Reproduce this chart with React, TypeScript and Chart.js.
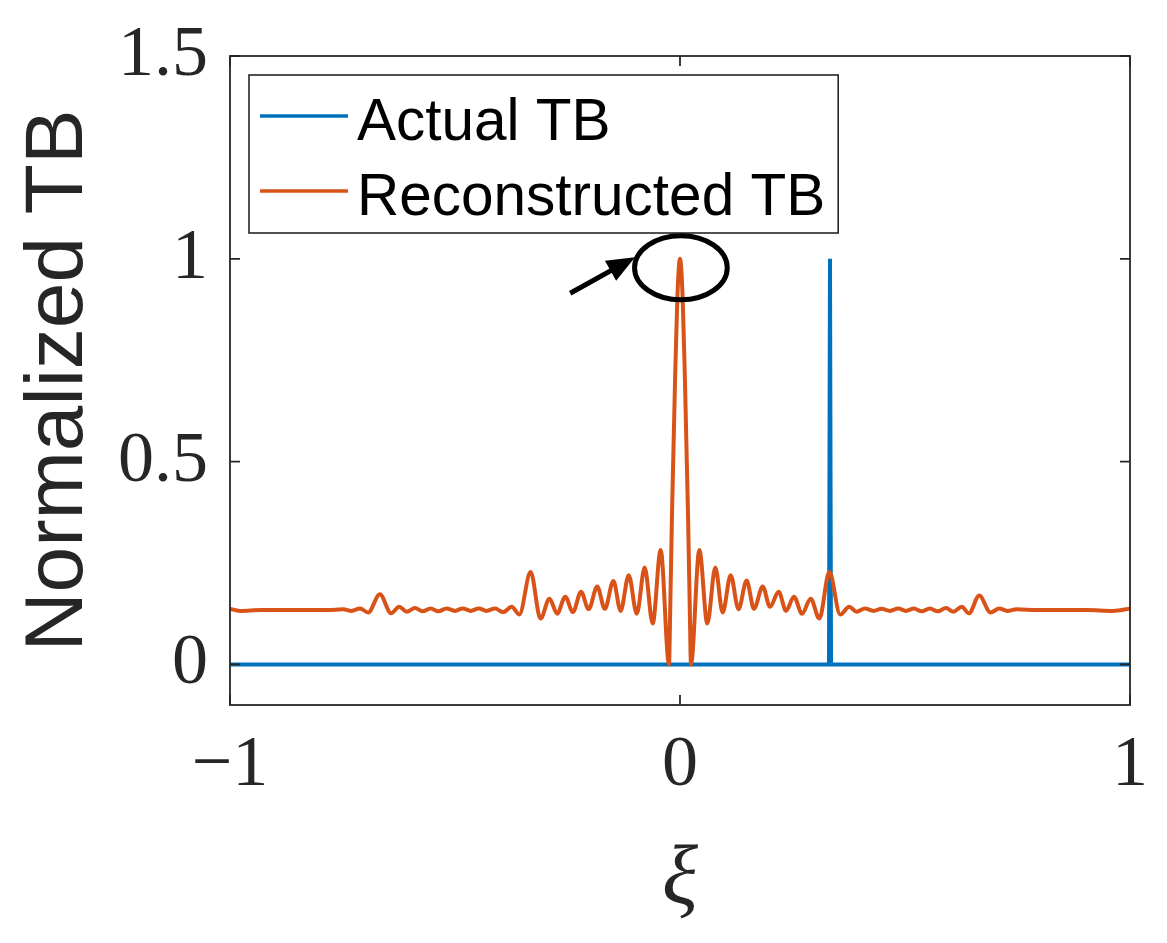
import { useEffect, useRef } from "react";
import { Chart, registerables } from "chart.js";

Chart.register(...registerables);

// ---- data ----
const xiValues = [
  -1.0, -0.978, -0.93, -0.86, -0.8, -0.765, -0.748, -0.73, -0.711, -0.693,
  -0.667, -0.642, -0.624, -0.607, -0.589, -0.572, -0.554, -0.537, -0.519, -0.5,
  -0.483, -0.465, -0.447, -0.43, -0.411, -0.393, -0.374, -0.357, -0.332, -0.31,
  -0.29, -0.273, -0.255, -0.238, -0.22, -0.203, -0.184, -0.167, -0.148, -0.132,
  -0.114, -0.096, -0.0785, -0.0607, -0.043, -0.0244, -0.022, -0.0178, -0.011, -0.006,
  0.0, 0.006, 0.011, 0.0178, 0.022, 0.0244, 0.043, 0.0607, 0.0785, 0.0948,
  0.1126, 0.13, 0.148, 0.1644, 0.1837, 0.2, 0.2193, 0.2356, 0.2533, 0.2711,
  0.2904, 0.3096, 0.3319, 0.356, 0.376, 0.3926, 0.411, 0.4296, 0.448, 0.4667,
  0.485, 0.502, 0.52, 0.537, 0.5556, 0.5726, 0.591, 0.6074, 0.626, 0.642,
  0.665, 0.69, 0.7096, 0.727, 0.748, 0.793, 0.86, 0.904, 0.962, 0.996, 1.0,
];
const reconstructedTB = [
  0.137, 0.132, 0.134, 0.134, 0.134, 0.135, 0.136, 0.132, 0.138, 0.128,
  0.173, 0.126, 0.142, 0.13, 0.139, 0.131, 0.138, 0.131, 0.138, 0.132,
  0.138, 0.132, 0.138, 0.132, 0.138, 0.129, 0.142, 0.123, 0.228, 0.113,
  0.162, 0.125, 0.167, 0.129, 0.179, 0.136, 0.192, 0.137, 0.206, 0.132,
  0.22, 0.125, 0.239, 0.101, 0.282, 0.0, 0.12, 0.37, 0.7, 0.9,
  1.0, 0.9, 0.7, 0.37, 0.12, 0.0, 0.282, 0.101, 0.239, 0.128,
  0.22, 0.136, 0.207, 0.137, 0.192, 0.142, 0.179, 0.132, 0.167, 0.125,
  0.162, 0.113, 0.228, 0.123, 0.142, 0.13, 0.138, 0.132, 0.137, 0.132,
  0.138, 0.132, 0.138, 0.131, 0.138, 0.131, 0.139, 0.13, 0.142, 0.126,
  0.17, 0.128, 0.138, 0.132, 0.136, 0.134, 0.134, 0.134, 0.132, 0.137, 0.138,
];
const actualXi = [-1, 0.3311, 0.3333, 0.3356, 1];
const actualTB = [0, 0, 1, 0, 0];

const xTicks = [-1, 0, 1];
const yTicks = [0, 0.5, 1, 1.5];
const seriesLabels = ["Actual TB", "Reconstructed TB"];
const seriesColors = ["#0072BD", "#D95319"];
const xTitle = "ξ";
const yTitle = "Normalized TB";

// annotation in data units
const highlightEllipse = { cx: 0.002, cy: 0.978, rx: 0.103, ry: 0.079 };
const highlightArrow = { fromX: -0.244, fromY: 0.915, toX: -0.1, toY: 1.004 };

const AXIS_COLOR = "#262626";

const fmtTick = (v: number) => (v < 0 ? "\u2212" + Math.abs(v) : String(v));

const framePlugin = {
  id: "matlabFrame",
  afterDatasetsDraw(chart: any) {
    const { ctx, chartArea: ca, scales } = chart;
    const xs = scales.x;
    const ys = scales.y;
    const tickLen = 10;
    ctx.save();
    ctx.strokeStyle = AXIS_COLOR;
    ctx.lineWidth = 1.8;
    ctx.beginPath();
    xTicks.forEach((t) => {
      const px = xs.getPixelForValue(t);
      ctx.moveTo(px, ca.bottom);
      ctx.lineTo(px, ca.bottom - tickLen);
      ctx.moveTo(px, ca.top);
      ctx.lineTo(px, ca.top + tickLen);
    });
    yTicks.forEach((t) => {
      const py = ys.getPixelForValue(t);
      ctx.moveTo(ca.left, py);
      ctx.lineTo(ca.left + tickLen, py);
      ctx.moveTo(ca.right, py);
      ctx.lineTo(ca.right - tickLen, py);
    });
    ctx.stroke();
    ctx.strokeRect(ca.left, ca.top, ca.right - ca.left, ca.bottom - ca.top);
    ctx.restore();
  },
  afterDraw(chart: any) {
    const { ctx, chartArea: ca, scales } = chart;
    const xs = scales.x;
    const ys = scales.y;
    ctx.save();

    // ---- legend ----
    const fontSize = 58.5;
    ctx.font = `${fontSize}px "Liberation Sans", Arial, sans-serif`;
    const left = ca.left + 19;
    const top = ca.top + 19;
    const lineStart = left + 11;
    const lineLen = 88;
    const textX = lineStart + 97;
    const widths = chart.data.datasets.map((d: any) => ctx.measureText(d.label).width);
    const maxW = Math.max(...widths);
    const boxW = textX + maxW + 13 - left;
    const boxH = 158;
    ctx.fillStyle = "#ffffff";
    ctx.fillRect(left, top, boxW, boxH);
    ctx.strokeStyle = AXIS_COLOR;
    ctx.lineWidth = 1.6;
    ctx.strokeRect(left, top, boxW, boxH);
    chart.data.datasets.forEach((d: any, i: number) => {
      const lineY = top + 41 + i * 75;
      const baseY = top + 65 + i * 75;
      ctx.strokeStyle = d.borderColor;
      ctx.lineWidth = 3.5;
      ctx.beginPath();
      ctx.moveTo(lineStart, lineY);
      ctx.lineTo(lineStart + lineLen, lineY);
      ctx.stroke();
      ctx.fillStyle = "#000000";
      ctx.textBaseline = "alphabetic";
      ctx.textAlign = "left";
      ctx.fillText(d.label, textX, baseY);
    });

    // ---- highlight ellipse ----
    const ecx = xs.getPixelForValue(highlightEllipse.cx);
    const ecy = ys.getPixelForValue(highlightEllipse.cy);
    const erx = Math.abs(xs.getPixelForValue(highlightEllipse.cx + highlightEllipse.rx) - ecx);
    const ery = Math.abs(ys.getPixelForValue(highlightEllipse.cy + highlightEllipse.ry) - ecy);
    ctx.strokeStyle = "#000000";
    ctx.lineWidth = 5;
    ctx.beginPath();
    ctx.ellipse(ecx, ecy, erx, ery, 0, 0, Math.PI * 2);
    ctx.stroke();

    // ---- arrow ----
    const ax0 = xs.getPixelForValue(highlightArrow.fromX);
    const ay0 = ys.getPixelForValue(highlightArrow.fromY);
    const ax1 = xs.getPixelForValue(highlightArrow.toX);
    const ay1 = ys.getPixelForValue(highlightArrow.toY);
    const ang = Math.atan2(ay1 - ay0, ax1 - ax0);
    const headLen = 28;
    const headHalf = 11.5;
    const bx = ax1 - headLen * Math.cos(ang);
    const by = ay1 - headLen * Math.sin(ang);
    ctx.lineWidth = 5;
    ctx.lineCap = "butt";
    ctx.beginPath();
    ctx.moveTo(ax0, ay0);
    ctx.lineTo(bx + 4 * Math.cos(ang), by + 4 * Math.sin(ang));
    ctx.stroke();
    ctx.fillStyle = "#000000";
    ctx.beginPath();
    ctx.moveTo(ax1, ay1);
    ctx.lineTo(bx + headHalf * Math.sin(ang), by - headHalf * Math.cos(ang));
    ctx.lineTo(bx - headHalf * Math.sin(ang), by + headHalf * Math.cos(ang));
    ctx.closePath();
    ctx.fill();

    ctx.restore();
  },
};

export default function App() {
  const canvasRef = useRef<HTMLCanvasElement | null>(null);

  useEffect(() => {
    const canvas = canvasRef.current;
    if (!canvas) return;
    const chart = new Chart(canvas, {
      type: "line",
      data: {
        datasets: [
          {
            label: seriesLabels[0],
            data: actualXi.map((x, i) => ({ x, y: actualTB[i] })),
            borderColor: seriesColors[0],
            backgroundColor: seriesColors[0],
            borderWidth: 4,
            pointRadius: 0,
            tension: 0,
            order: 2,
          },
          {
            label: seriesLabels[1],
            data: xiValues.map((x, i) => ({ x, y: reconstructedTB[i] })),
            borderColor: seriesColors[1],
            backgroundColor: seriesColors[1],
            borderWidth: 4,
            pointRadius: 0,
            cubicInterpolationMode: "monotone",
            order: 1,
          },
        ],
      },
      options: {
        responsive: false,
        animation: false,
        layout: { padding: { left: 0, top: 56, right: 37, bottom: 0 } },
        plugins: {
          legend: { display: false },
          tooltip: { enabled: false },
        },
        scales: {
          x: {
            type: "linear",
            min: -1,
            max: 1,
            grid: { display: false, drawTicks: false },
            border: { display: false },
            afterBuildTicks: (scale: any) => {
              scale.ticks = xTicks.map((v) => ({ value: v }));
            },
            afterFit: (scale: any) => {
              scale.height = 238;
            },
            ticks: {
              autoSkip: false,
              maxRotation: 0,
              minRotation: 0,
              padding: 0,
              color: AXIS_COLOR,
              font: { family: '"Liberation Serif", "Times New Roman", serif', size: 72, lineHeight: 122 / 72 },
              callback: (v: any) => fmtTick(Number(v)),
            },
            title: {
              display: true,
              text: xTitle,
              color: AXIS_COLOR,
              font: { family: '"Liberation Serif", "Times New Roman", serif', size: 84, style: "italic", lineHeight: 1 },
              padding: { top: 0, bottom: 20 },
            },
          },
          y: {
            type: "linear",
            min: -0.1,
            max: 1.5,
            grid: { display: false, drawTicks: false },
            border: { display: false },
            afterBuildTicks: (scale: any) => {
              scale.ticks = yTicks.map((v) => ({ value: v }));
            },
            afterFit: (scale: any) => {
              scale.width = 230;
            },
            ticks: {
              autoSkip: false,
              padding: 22,
              color: AXIS_COLOR,
              font: { family: '"Liberation Serif", "Times New Roman", serif', size: 72, lineHeight: 0.9 },
              callback: (v: any) => fmtTick(Number(v)),
            },
            title: {
              display: true,
              text: yTitle,
              color: AXIS_COLOR,
              font: { family: '"Liberation Sans", Arial, sans-serif', size: 82, lineHeight: 1 },
              padding: { top: 18, bottom: 0 },
            },
          },
        },
      },
      plugins: [framePlugin],
    } as any);
    return () => chart.destroy();
  }, []);

  return (
    <div style={{ position: "absolute", left: 0, top: 0, width: 1167, height: 943, background: "#fff" }}>
      <canvas ref={canvasRef} width={1167} height={943} style={{ display: "block", width: 1167, height: 943 }} />
    </div>
  );
}
